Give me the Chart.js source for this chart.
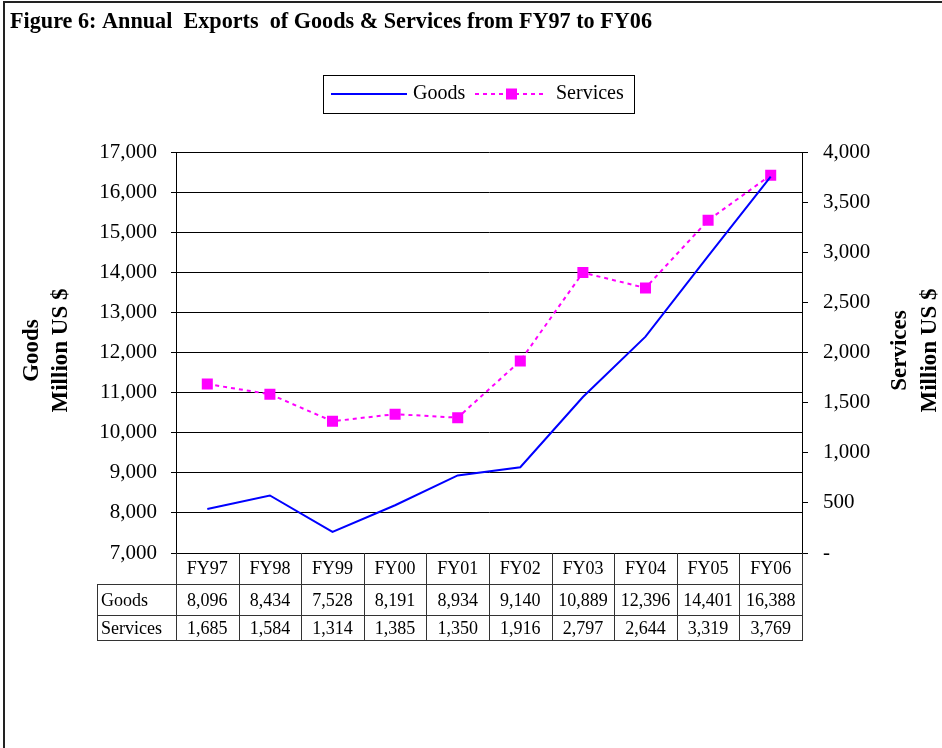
<!DOCTYPE html>
<html><head><meta charset="utf-8">
<script src="https://cdn.jsdelivr.net/npm/chart.js@4.4.1/dist/chart.umd.min.js"></script>
<style>html,body{margin:0;padding:0;background:#fff}#wrap{position:absolute;left:0;top:0;width:942px;height:748px}</style>
</head><body><div id="wrap"><canvas id="c" width="942" height="748"></canvas></div>
<script>
const titleText = 'Figure 6: Annual  Exports  of Goods & Services from FY97 to FY06';
const categories = ['FY97','FY98','FY99','FY00','FY01','FY02','FY03','FY04','FY05','FY06'];
const goods = [8096, 8434, 7528, 8191, 8934, 9140, 10889, 12396, 14401, 16388];
const services = [1685, 1584, 1314, 1385, 1350, 1916, 2797, 2644, 3319, 3769];
const seriesNames = ['Goods', 'Services'];
const leftAxisTitle = ['Goods', 'Million US $'];
const rightAxisTitle = ['Services', 'Million US $'];
const leftRange = [7000, 17000, 1000];
const rightRange = [0, 4000, 500];

const SERIF = "'Liberation Serif', 'Times New Roman', serif";
const fmt = v => v.toLocaleString('en-US');

const decor = {
  id: 'decor',
  beforeDraw(chart) {
    const ctx = chart.ctx;
    ctx.save(); ctx.fillStyle = '#fff'; ctx.fillRect(0, 0, chart.width, chart.height); ctx.restore();
  },
  afterDraw(chart) {
    const ctx = chart.ctx, ca = chart.chartArea, xs = chart.scales.x;
    ctx.save();
    // frame
    ctx.fillStyle = '#222';
    ctx.fillRect(3, 1, 2, chart.height);
    ctx.fillRect(3, 1, chart.width, 2);
    // title
    ctx.fillStyle = '#000';
    ctx.font = 'bold 23px ' + SERIF;
    ctx.textAlign = 'left'; ctx.textBaseline = 'alphabetic';
    const tw = ctx.measureText(titleText).width, target = 642;
    if (tw < target) {
      ctx.letterSpacing = ((target - tw) / (titleText.length - 1)) + 'px';
      ctx.fillText(titleText, 10, 28);
      ctx.letterSpacing = '0px';
    } else {
      ctx.save(); ctx.translate(10, 28); ctx.scale(target / tw, 1); ctx.fillText(titleText, 0, 0); ctx.restore();
    }
    // legend
    ctx.strokeStyle = '#000'; ctx.lineWidth = 1;
    ctx.strokeRect(323.5, 75.5, 311, 38);
    const ly = 94;
    ctx.strokeStyle = '#0000FF'; ctx.lineWidth = 2;
    ctx.beginPath(); ctx.moveTo(331, ly); ctx.lineTo(407, ly); ctx.stroke();
    ctx.strokeStyle = '#FF00FF'; ctx.lineWidth = 2; ctx.setLineDash([4, 4]);
    ctx.beginPath(); ctx.moveTo(475, ly); ctx.lineTo(547, ly); ctx.stroke();
    ctx.setLineDash([]);
    ctx.fillStyle = '#FF00FF'; ctx.fillRect(506, ly - 5.5, 11, 11);
    ctx.fillStyle = '#000'; ctx.font = '20px ' + SERIF; ctx.textBaseline = 'middle';
    ctx.fillText(seriesNames[0], 413, ly);
    ctx.fillText(seriesNames[1], 556, ly);
    // axis titles
    ctx.font = 'bold 23px ' + SERIF; ctx.textAlign = 'center';
    const cy = (ca.top + ca.bottom) / 2 - 2;
    const drawRot = (lines, xs0) => {
      lines.forEach((t, i) => {
        ctx.save(); ctx.translate(xs0[i], cy); ctx.rotate(-Math.PI / 2); ctx.fillText(t, 0, 0); ctx.restore();
      });
    };
    drawRot(leftAxisTitle, [32, 61]);
    drawRot(rightAxisTitle, [900, 930]);
    // data table
    const n = categories.length;
    const half = (xs.getPixelForValue(1) - xs.getPixelForValue(0)) / 2;
    const edges = [];
    for (let i = 0; i < n; i++) edges.push(xs.getPixelForValue(i) - half);
    edges.push(xs.getPixelForValue(n - 1) + half);
    const top = ca.bottom, r1 = 584, r2 = 615, bot = 640, labL = 97;
    ctx.strokeStyle = '#333'; ctx.lineWidth = 1;
    ctx.beginPath();
    edges.forEach(e => { const x = Math.round(e) + 0.5; ctx.moveTo(x, top); ctx.lineTo(x, bot); });
    [r1, r2, bot].forEach(y => { ctx.moveTo(labL, y + 0.5); ctx.lineTo(Math.round(edges[n]) + 1, y + 0.5); });
    ctx.moveTo(labL + 0.5, r1); ctx.lineTo(labL + 0.5, bot);
    ctx.stroke();
    ctx.fillStyle = '#000'; ctx.font = '18px ' + SERIF; ctx.textBaseline = 'middle';
    ctx.textAlign = 'center';
    for (let i = 0; i < n; i++) {
      const cx = xs.getPixelForValue(i);
      ctx.fillText(categories[i], cx, 569);
      ctx.fillText(fmt(goods[i]), cx, 601);
      ctx.fillText(fmt(services[i]), cx, 629);
    }
    ctx.textAlign = 'left';
    ctx.fillText(seriesNames[0], 101, 601);
    ctx.fillText(seriesNames[1], 101, 629);
    ctx.restore();
  }
};

new Chart(document.getElementById('c'), {
  type: 'line',
  data: {
    labels: categories,
    datasets: [
      { label: seriesNames[0], data: goods, yAxisID: 'y', borderColor: '#0000FF', borderWidth: 2,
        pointRadius: 0, fill: false, tension: 0 },
      { label: seriesNames[1], data: services, yAxisID: 'y1', borderColor: '#FF00FF', borderWidth: 2,
        borderDash: [4, 4], pointStyle: 'rect', pointRadius: 7.8, pointHoverRadius: 7.8,
        pointBackgroundColor: '#FF00FF', pointBorderWidth: 0, fill: false, tension: 0 }
    ]
  },
  options: {
    responsive: false, animation: false, devicePixelRatio: 1,
    layout: { padding: { left: 0, right: 0, top: 152, bottom: 195 } },
    plugins: { legend: { display: false }, title: { display: false }, tooltip: { enabled: false } },
    scales: {
      x: { type: 'category', offset: true, display: false },
      y: {
        position: 'left', min: leftRange[0], max: leftRange[1],
        afterFit: s => { s.width = 176; },
        ticks: { stepSize: leftRange[2], color: '#000', padding: 14, font: { family: SERIF, size: 21 }, callback: v => fmt(v) },
        grid: { color: '#000', lineWidth: 1, tickLength: 5, drawTicks: true },
        border: { display: true, color: '#000', width: 1 }
      },
      y1: {
        position: 'right', min: rightRange[0], max: rightRange[1],
        afterFit: s => { s.width = 140; },
        ticks: { stepSize: rightRange[2], color: '#000', padding: 15, font: { family: SERIF, size: 21 }, callback: v => v === 0 ? '-' : fmt(v) },
        grid: { drawOnChartArea: false, color: '#000', lineWidth: 1, tickLength: 6 },
        border: { display: true, color: '#000', width: 1 }
      }
    }
  },
  plugins: [decor]
});
</script></body></html>
